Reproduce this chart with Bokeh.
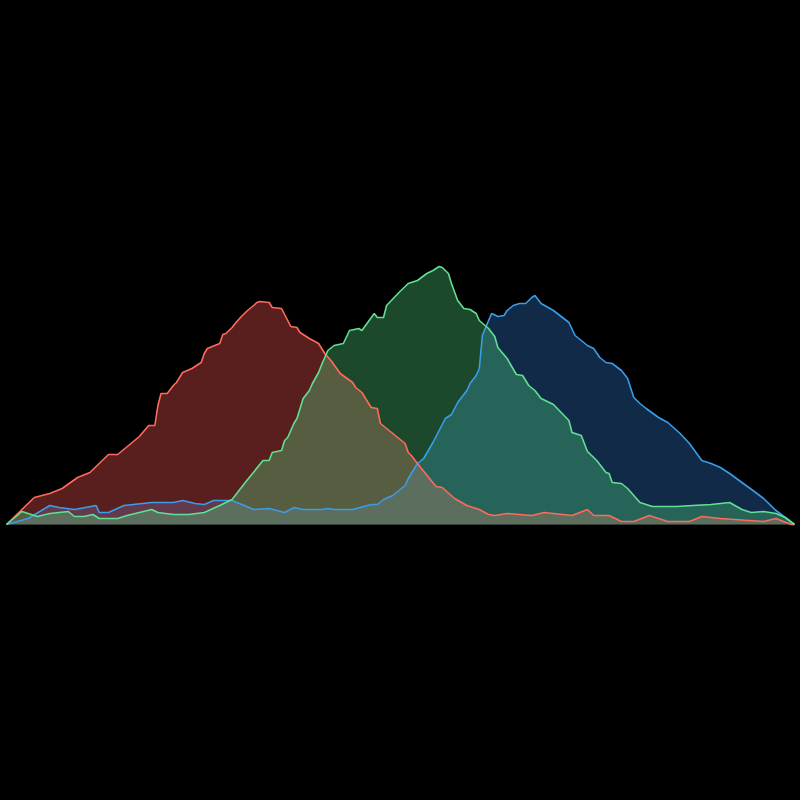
from bokeh.plotting import figure
from bokeh.models import Range1d
from bokeh.embed import file_html
from bokeh.resources import INLINE

# Histogram readings: intensity (0-255) and pixel counts per channel
red_x = [0, 9, 14, 18, 23, 27, 30, 33, 36, 43, 46, 48, 49, 50, 52, 54, 55, 57, 60, 63, 64, 65, 69, 70, 71,
         73, 74, 76, 78, 80, 81, 82, 85, 86, 89, 92, 94, 95, 98, 101, 103, 105, 108, 112, 113, 115, 118,
         120, 121, 125, 129, 130, 131, 134, 139, 141, 145, 149, 153, 156, 158, 162, 166, 170, 174, 183,
         188, 190, 195, 199, 203, 208, 214, 221, 225, 231, 245, 249, 254, 255]
red_y = [0, 270, 310, 360, 470, 520, 610, 700, 700, 880, 990, 990, 1190, 1310, 1310, 1390, 1420, 1520, 1560,
         1620, 1710, 1760, 1810, 1900, 1910, 1970, 2010, 2080, 2140, 2190, 2220, 2230, 2220, 2170, 2160,
         1980, 1970, 1920, 1860, 1810, 1710, 1640, 1510, 1420, 1370, 1320, 1170, 1160, 1010, 910, 810,
         720, 690, 570, 380, 370, 260, 190, 150, 100, 90, 110, 100, 90, 120, 90, 150, 90, 90, 30, 30, 90,
         30, 30, 80, 60, 30, 60, 0, 0]

green_x = [0, 5, 10, 14, 20, 22, 25, 28, 30, 36, 39, 47, 49, 54, 59, 64, 69, 73, 77, 83, 85, 86, 89, 90,
           91, 93, 94, 95, 96, 98, 99, 101, 102, 104, 106, 109, 111, 114, 115, 119, 120, 122, 123, 127,
           130, 133, 136, 138, 140, 141, 143, 144, 146, 148, 150, 152, 153, 156, 158, 159, 162, 165, 167,
           169, 171, 173, 177, 182, 183, 186, 188, 191, 194, 195, 196, 199, 201, 205, 209, 213, 217, 222,
           228, 231, 234, 238, 241, 245, 249, 252, 255]
green_y = [0, 130, 80, 110, 130, 80, 80, 100, 60, 60, 90, 150, 120, 100, 100, 120, 190, 250, 410, 640, 640,
           720, 740, 840, 870, 1010, 1060, 1160, 1260, 1340, 1410, 1520, 1600, 1740, 1790, 1810, 1940,
           1960, 1940, 2110, 2070, 2070, 2190, 2320, 2410, 2440, 2510, 2540, 2580, 2570, 2510, 2410, 2240,
           2160, 2150, 2110, 2040, 1960, 1880, 1770, 1660, 1500, 1490, 1390, 1340, 1260, 1200, 1040, 920,
           890, 730, 640, 520, 510, 420, 410, 360, 220, 180, 180, 180, 190, 200, 210, 220, 150, 120, 130,
           110, 70, 0]

blue_x = [0, 7, 14, 17, 22, 29, 30, 33, 38, 47, 54, 57, 61, 64, 67, 73, 77, 80, 85, 90, 93, 96, 102, 104,
          106, 112, 118, 120, 122, 125, 129, 130, 133, 135, 138, 140, 142, 144, 146, 149, 150, 152, 153,
          154, 156, 157, 159, 161, 162, 164, 166, 168, 170, 171, 173, 177, 182, 184, 186, 188, 190, 192,
          194, 196, 199, 201, 203, 205, 207, 211, 214, 218, 221, 225, 228, 231, 234, 238, 242, 245, 249,
          255]
blue_y = [0, 60, 190, 170, 150, 190, 120, 120, 190, 220, 220, 240, 210, 200, 240, 240, 190, 150, 160, 120,
          170, 150, 150, 160, 150, 150, 200, 200, 250, 290, 390, 460, 610, 660, 820, 940, 1060, 1100, 1220,
          1340, 1410, 1490, 1560, 1890, 2040, 2110, 2080, 2090, 2140, 2190, 2210, 2210, 2270, 2290, 2210,
          2140, 2020, 1890, 1840, 1790, 1760, 1670, 1620, 1610, 1540, 1460, 1270, 1210, 1160, 1070, 1020,
          910, 810, 640, 610, 570, 510, 420, 330, 260, 140, 0]

p = figure(width=800, height=800, output_backend="svg", toolbar_location=None,
           x_range=Range1d(-1.942, 256.942), y_range=Range1d(-2760, 5240),
           min_border=0, background_fill_color="#000000", border_fill_color="#000000",
           outline_line_color=None)
p.axis.visible = False
p.grid.visible = False

series = [
    (blue_x, blue_y, "#2d78cb", "#3a9de8"),
    (red_x, red_y, "#ff5a5a", "#ff6b5b"),
    (green_x, green_y, "#50d27d", "#62e092"),
]
for xs, ys, fill, line in series:
    p.varea(x=xs, y1=[0] * len(xs), y2=ys, fill_color=fill, fill_alpha=0.35)
for xs, ys, fill, line in series:
    p.line(x=xs, y=ys, line_color=line, line_width=1.6)

html = file_html(p, INLINE)
html = html.replace("<head>", "<head><style>html,body{background:#000000;margin:0;}</style>", 1)
open("out.html", "w").write(html)
